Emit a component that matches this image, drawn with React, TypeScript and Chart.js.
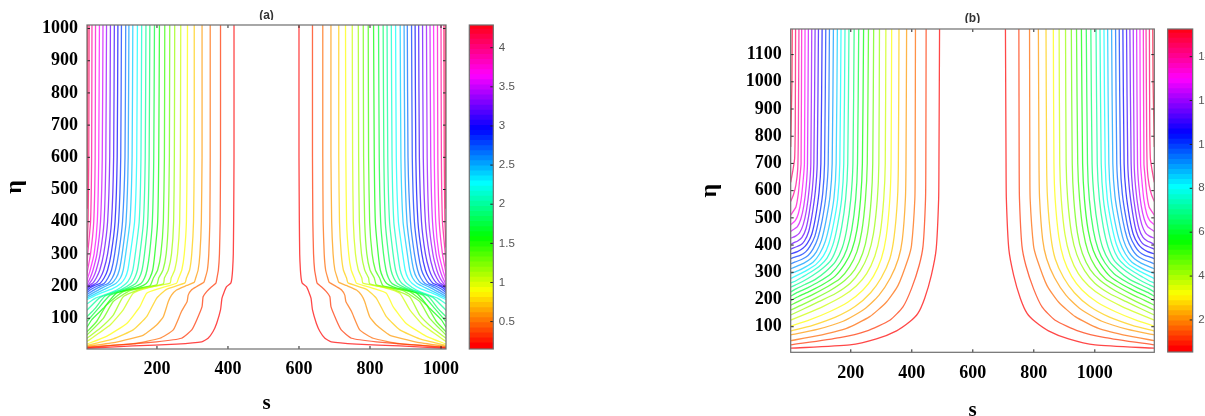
import React, { useEffect, useRef } from "react";
import { Chart, registerables } from "chart.js";

Chart.register(...registerables);

// ---- axis ticks
const xTicksA = [200, 400, 600, 800, 1000];
const yTicksA = [100, 200, 300, 400, 500, 600, 700, 800, 900, 1000];
const xTicksB = [200, 400, 600, 800, 1000];
const yTicksB = [100, 200, 300, 400, 500, 600, 700, 800, 900, 1000, 1100];
const barTicksA = [0.5, 1, 1.5, 2, 2.5, 3, 3.5, 4];
const barTicksB = [2, 4, 6, 8, 10, 12, 14];

// ---- panel (a): left half of each contour as s,eta pairs. The right half mirrors it.
const a0 = [417,1011, 417,600, 416,400, 415,300, 413,250, 411,225, 408,209, 396,198, 388,178, 383,162, 379,126, 368,84, 358,59, 344,38, 326,27, 255,20, 133,14, 3,7];
const a1 = [379,1011, 379,600, 378,400, 376,300, 373,250, 369,225, 366,209, 354,198, 340,183, 330,167, 327,136, 312,95, 298,64, 269,38, 199,27, 68,15, 3,9];
const a2 = [350,1011, 350,600, 349,400, 346,300, 342,250, 336,225, 332,212, 311,198, 297,188, 288,172, 285,152, 269,121, 246,64, 208,38, 133,21, 3,11];
const a3 = [327,1011, 327,600, 325,400, 321,300, 316,250, 309,225, 305,212, 284,202, 255,188, 241,172, 232,152, 218,105, 199,79, 162,48, 86,26, 3,13];
const a4 = [305,1011, 305,600, 303,400, 298,300, 292,250, 283,225, 279,210, 227,190, 199,162, 171,105, 133,64, 77,36, 3,16];
const a5 = [286,1011, 285,600, 283,400, 277,300, 270,250, 261,225, 255,209, 208,193, 171,178, 152,136, 115,84, 58,44, 3,20];
const a6 = [267,1011, 266,600, 264,400, 258,300, 250,250, 240,225, 237,209, 180,196, 133,178, 105,126, 68,79, 3,28];
const a7 = [250,1011, 249,600, 247,400, 241,300, 232,250, 221,225, 218,207, 152,190, 105,167, 77,110, 40,69, 3,38];
const a8 = [236,1011, 235,600, 232,400, 226,300, 217,250, 205,225, 199,204, 124,186, 77,152, 49,100, 3,48];
const a9 = [222,1011, 221,600, 218,400, 211,300, 202,250, 190,225, 180,201, 105,183, 58,141, 30,90, 3,58];
const a10 = [207,1011, 205,600, 202,400, 194,300, 188,250, 180,225, 170,208, 150,197, 86,178, 49,131, 16,95, 3,72];
const a11 = [193,1011, 191,600, 187,400, 179,300, 172,250, 165,225, 155,208, 130,195, 68,172, 35,131, 3,90];
const a12 = [180,1011, 178,600, 174,400, 165,300, 158,250, 150,225, 140,208, 115,193, 54,169, 26,131, 3,105];
const a13 = [169,1011, 167,600, 162,400, 152,300, 145,250, 137,225, 127,208, 100,190, 40,165, 3,125];
const a14 = [157,1011, 155,600, 150,400, 139,300, 132,250, 124,225, 113,208, 85,187, 26,162, 3,145];
const a15 = [145,1011, 143,600, 137,400, 125,300, 118,250, 110,225, 98,208, 75,192, 35,175, 3,158];
const a16 = [132,1011, 130,600, 124,400, 112,300, 105,250, 97,225, 84,208, 62,195, 30,178, 3,163];
const a17 = [121,1011, 119,600, 113,400, 102,300, 94,250, 85,225, 72,208, 50,197, 25,182, 3,168];
const a18 = [112,1011, 110,600, 103,400, 92,300, 83,250, 74,225, 62,208, 42,199, 20,186, 3,174];
const a19 = [100,1011, 98,600, 92,400, 81,300, 72,250, 62,225, 51,208, 34,201, 15,190, 3,180];
const a20 = [90,1011, 88,600, 82,400, 71,300, 61,250, 51,225, 40,209, 26,203, 12,195, 3,186];
const a21 = [80,1011, 78,600, 72,400, 61,300, 50,250, 40,225, 30,210, 20,204, 8,197, 3,191];
const a22 = [69,1011, 67,600, 61,400, 50,300, 39,250, 29,225, 20,210, 12,204, 3,195];
const a23 = [58,1011, 56,600, 51,400, 40,300, 29,250, 20,225, 11,210, 3,199];
const a24 = [48,1011, 46,600, 41,400, 31,300, 20,250, 12,225, 6,212, 3,204];
const a25 = [38,1011, 36,600, 32,400, 23,300, 12,250, 5,225, 3,214];
const a26 = [27,1011, 26,600, 22,400, 13,300, 4,245, 3,232];
const a27 = [17,1011, 16,600, 13,400, 5,300, 3,262];
const a28 = [9,1011, 8,600, 6,400, 3,320];
const a29 = [5,1011, 4,600, 3,440];
const contoursA = [a0,a1,a2,a3,a4,a5,a6,a7,a8,a9,a10,a11,a12,a13,a14,a15,a16,a17,a18,a19,a20,a21,a22,a23,a24,a25,a26,a27,a28,a29];

// ---- panel (b)
const b0 = [491,1194, 489,700, 488,569, 480,386, 464,289, 442,204, 420,149, 393,118, 350,85, 284,55, 197,33, 3,21];
const b1 = [447,1194, 446,700, 445,569, 437,398, 424,325, 399,240, 371,173, 328,124, 251,84, 164,60, 3,33];
const b2 = [412,1194, 411,700, 410,569, 399,398, 388,350, 355,252, 317,191, 262,137, 186,94, 88,66, 3,49];
const b3 = [383,1194, 381,700, 379,569, 369,420, 356,350, 330,280, 292,215, 245,165, 175,120, 90,90, 3,70];
const b4 = [358,1194, 356,700, 353,569, 342,430, 328,350, 300,280, 265,225, 215,175, 150,135, 75,105, 3,84];
const b5 = [334,1194, 332,700, 328,569, 316,430, 300,350, 274,285, 240,235, 190,190, 130,155, 65,125, 3,102];
const b6 = [315,1194, 313,700, 308,569, 296,440, 279,360, 252,295, 218,250, 170,210, 110,175, 55,148, 3,124];
const b7 = [294,1194, 292,700, 287,569, 274,440, 257,365, 231,305, 198,260, 150,222, 95,192, 45,165, 3,143];
const b8 = [275,1194, 272,700, 267,569, 255,445, 239,370, 213,310, 180,270, 135,235, 85,205, 40,180, 3,161];
const b9 = [258,1194, 254,700, 248,569, 236,450, 220,375, 196,320, 163,275, 120,245, 75,218, 35,197, 3,179];
const b10 = [242,1194, 238,700, 232,569, 220,455, 203,380, 180,330, 148,285, 108,255, 65,230, 30,212, 3,196];
const b11 = [226,1194, 222,700, 216,569, 203,455, 187,385, 165,335, 135,295, 95,265, 58,243, 25,226, 3,212];
const b12 = [211,1194, 207,700, 200,569, 187,460, 172,390, 150,340, 120,305, 85,275, 50,255, 22,240, 3,228];
const b13 = [194,1194, 190,700, 183,569, 170,465, 155,395, 135,345, 108,315, 75,288, 45,268, 18,253, 3,245];
const b14 = [181,1194, 177,700, 170,569, 156,470, 141,400, 122,352, 97,322, 68,300, 40,282, 15,266, 3,261];
const b15 = [168,1194, 164,700, 157,569, 143,475, 128,405, 110,360, 87,330, 60,310, 35,295, 12,282, 3,277];
const b16 = [156,1194, 152,700, 145,575, 131,480, 116,412, 98,368, 77,338, 52,320, 28,306, 3,295];
const b17 = [143,1194, 139,700, 132,580, 118,485, 104,418, 87,375, 68,350, 45,333, 22,322, 3,313];
const b18 = [130,1194, 126,700, 119,585, 106,490, 92,425, 76,385, 60,362, 40,348, 18,338, 3,331];
const b19 = [118,1194, 114,700, 108,590, 95,495, 82,432, 66,395, 52,375, 34,362, 14,355, 3,350];
const b20 = [106,1194, 102,700, 96,595, 84,500, 72,440, 57,405, 43,388, 25,376, 3,368];
const b21 = [94,1194, 90,700, 84,600, 73,510, 62,450, 48,415, 35,400, 18,392, 3,385];
const b22 = [83,1194, 79,700, 74,605, 64,520, 53,460, 40,428, 26,415, 12,408, 3,402];
const b23 = [72,1194, 69,700, 64,610, 55,530, 44,475, 32,445, 19,433, 3,425];
const b24 = [61,1194, 58,700, 54,620, 46,545, 36,495, 25,468, 12,457, 3,450];
const b25 = [50,1194, 48,700, 44,640, 37,565, 28,515, 18,490, 3,475];
const b26 = [39,1194, 37,700, 34,660, 28,590, 20,540, 3,510];
const b27 = [30,1194, 28,800, 26,680, 20,620, 12,585, 3,560];
const b28 = [19,1194, 18,850, 16,720, 11,680, 3,630];
const b29 = [8,1194, 7,1000, 5,880, 3,760];
const contoursB = [b0,b1,b2,b3,b4,b5,b6,b7,b8,b9,b10,b11,b12,b13,b14,b15,b16,b17,b18,b19,b20,b21,b22,b23,b24,b25,b26,b27,b28,b29];

const GRAY = "#6e6e6e";
const BAND_COUNT = 64;

const framePlugin = {
  id: "frame",
  beforeDatasetsDraw(chart: any, _a: any, opts: any) {
    if (opts.coverFrom == null) return;
    const { ctx, chartArea: c } = chart;
    const mid = (c.left + c.right) / 2;
    ctx.save();
    ctx.fillStyle = "#fff";
    ctx.fillRect(mid - 20, opts.coverFrom, 40, c.top - opts.coverFrom - 1);
    ctx.restore();
  },
  afterDatasetsDraw(chart: any, _a: any, opts: any) {
    const { ctx, chartArea: c } = chart;
    ctx.save();
    ctx.strokeStyle = "#222";
    ctx.lineWidth = 1;
    const len = 3;
    const ys = chart.scales.y;
    ctx.beginPath();
    for (const t of ys.ticks) {
      const p = ys.getPixelForValue(t.value);
      if (!opts.rightOnly) {
        ctx.moveTo(c.left, p);
        ctx.lineTo(c.left + len, p);
      }
      ctx.moveTo(c.right, p);
      ctx.lineTo(c.right - len, p);
    }
    if (!opts.rightOnly) {
      const xs = chart.scales.x;
      for (const t of xs.ticks) {
        const p = xs.getPixelForValue(t.value);
        ctx.moveTo(p, c.top);
        ctx.lineTo(p, c.top + len);
        ctx.moveTo(p, c.bottom);
        ctx.lineTo(p, c.bottom - len);
      }
    }
    ctx.stroke();
    ctx.strokeStyle = GRAY;
    ctx.lineWidth = 1.2;
    ctx.strokeRect(c.left, c.top, c.right - c.left, c.bottom - c.top);
    ctx.restore();
  },
};

const H = 430;
const tickFont = { family: '"Liberation Serif"', size: 18, weight: "bold" as const };
const titleFont = { family: '"Liberation Serif"', weight: "bold" as const };
const plainLabel = (v: any) => String(v);

function pairs(flat: number[], mirror?: number) {
  const out: { x: number; y: number }[] = [];
  for (let i = 0; i < flat.length; i += 2) {
    out.push({ x: mirror != null ? mirror - flat[i] : flat[i], y: flat[i + 1] });
  }
  return out;
}

function contourDatasets(list: number[][], mirror: number, tension: number) {
  const ds: any[] = [];
  list.forEach((c, i) => {
    const color = `hsla(${i * 12},100%,50%,0.72)`;
    for (const m of [undefined, mirror]) {
      ds.push({
        data: pairs(c, m),
        showLine: true,
        borderColor: color,
        borderWidth: 1.3,
        pointRadius: 0,
        tension,
        clip: 0,
      });
    }
  });
  return ds;
}

type Panel = {
  canvasLeft: number; canvasWidth: number;
  left: number; right: number; top: number; bottom: number;
  xMin: number; xMax: number; yMin: number; yMax: number;
  xTicks: number[]; yTicks: number[];
  contours: number[][]; mirror: number; tension: number;
  title: string; titlePadTop: number; coverFrom: number;
  sPad: number; etaPad: number;
};

const panelA: Panel = {
  canvasLeft: 0, canvasWidth: 476, left: 87, right: 446, top: 25, bottom: 349,
  xMin: 3, xMax: 1014, yMin: 4.6, yMax: 1011,
  xTicks: xTicksA, yTicks: yTicksA, contours: contoursA, mirror: 1017, tension: 0.15,
  title: "(a)", titlePadTop: 8.8, coverFrom: 20, sPad: 14, etaPad: 0,
};
const panelB: Panel = {
  canvasLeft: 690, canvasWidth: 500, left: 100.7, right: 464.3, top: 29, bottom: 352.3,
  xMin: 3, xMax: 1195, yMin: 6, yMax: 1194,
  xTicks: xTicksB, yTicks: yTicksB, contours: contoursB, mirror: 1198, tension: 0.2,
  title: "(b)", titlePadTop: 11.8, coverFrom: 23, sPad: 7, etaPad: 5,
};

function makePanel(canvas: HTMLCanvasElement, p: Panel) {
  return new Chart(canvas, {
    type: "scatter",
    data: { datasets: contourDatasets(p.contours, p.mirror, p.tension) },
    plugins: [framePlugin],
    options: {
      responsive: false,
      animation: false,
      layout: { padding: { left: 0, top: 0, bottom: 0, right: p.canvasWidth - p.right } },
      plugins: {
        legend: { display: false },
        tooltip: { enabled: false },
        title: {
          display: true,
          text: p.title,
          fullSize: false,
          color: "#333",
          font: { family: '"Liberation Sans"', size: 12, weight: "bold" },
          padding: { top: p.titlePadTop, bottom: p.top - 14.4 - p.titlePadTop },
        },
        frame: { coverFrom: p.coverFrom },
      } as any,
      scales: {
        x: {
          type: "linear",
          min: p.xMin,
          max: p.xMax,
          grid: { display: false, drawTicks: false },
          border: { display: false },
          afterBuildTicks: (s: any) => { s.ticks = p.xTicks.map((value) => ({ value })); },
          afterFit: (s: any) => { s.height = H - p.bottom; },
          ticks: { font: tickFont, color: "#000", padding: 10, maxRotation: 0, autoSkip: false, callback: plainLabel },
          title: { display: true, text: "s", color: "#000", font: { ...titleFont, size: 21 }, padding: { top: 0, bottom: p.sPad } },
        },
        y: {
          type: "linear",
          min: p.yMin,
          max: p.yMax,
          grid: { display: false, drawTicks: false },
          border: { display: false },
          afterBuildTicks: (s: any) => { s.ticks = p.yTicks.map((value) => ({ value })); },
          afterFit: (s: any) => { s.width = p.left; },
          ticks: { font: tickFont, color: "#000", padding: 9, autoSkip: false, callback: plainLabel },
          title: { display: true, text: "η", color: "#000", font: { ...titleFont, size: 24 }, padding: { top: p.etaPad, bottom: 0 } },
        },
      },
    } as any,
  });
}

type Bar = {
  canvasLeft: number; canvasWidth: number; left: number; right: number; top: number; bottom: number;
  min: number; max: number; ticks: number[];
};
const barA: Bar = { canvasLeft: 460, canvasWidth: 80, left: 9.3, right: 33.3, top: 25, bottom: 349, min: 0.15, max: 4.29, ticks: barTicksA };
const barB: Bar = { canvasLeft: 1160, canvasWidth: 45, left: 7.7, right: 32.7, top: 29, bottom: 352, min: 0.54, max: 15.26, ticks: barTicksB };

function makeBar(canvas: HTMLCanvasElement, b: Bar) {
  const step = (b.max - b.min) / BAND_COUNT;
  const datasets = Array.from({ length: BAND_COUNT }, (_, i) => ({
    data: [[b.min + i * step, b.min + (i + 1) * step + step * 0.2]],
    backgroundColor: `hsl(${(i / BAND_COUNT) * 360},100%,50%)`,
    borderWidth: 0,
    barPercentage: 1,
    categoryPercentage: 1,
    grouped: false,
  }));
  return new Chart(canvas, {
    type: "bar",
    data: { labels: ["z"], datasets },
    plugins: [framePlugin],
    options: {
      responsive: false,
      animation: false,
      layout: { padding: { left: b.left, top: b.top, bottom: H - b.bottom, right: 0 } },
      plugins: { legend: { display: false }, tooltip: { enabled: false }, frame: { rightOnly: true } } as any,
      scales: {
        x: { display: false, stacked: false },
        y: {
          position: "right",
          min: b.min,
          max: b.max,
          grid: { display: false, drawTicks: false },
          border: { display: false },
          afterBuildTicks: (s: any) => { s.ticks = b.ticks.map((value) => ({ value })); },
          afterFit: (s: any) => { s.width = b.canvasWidth - b.right; },
          ticks: {
            font: { family: '"Liberation Sans"', size: 11.5 },
            color: "#555",
            padding: 5.5,
            autoSkip: false,
            callback: plainLabel,
          },
        },
      },
    } as any,
  });
}

export default function App() {
  const a = useRef<HTMLCanvasElement>(null);
  const b = useRef<HTMLCanvasElement>(null);
  const ca = useRef<HTMLCanvasElement>(null);
  const cb = useRef<HTMLCanvasElement>(null);
  useEffect(() => {
    const charts = [
      makePanel(a.current!, panelA),
      makePanel(b.current!, panelB),
      makeBar(ca.current!, barA),
      makeBar(cb.current!, barB),
    ];
    return () => charts.forEach((c) => c.destroy());
  }, []);
  const style = (left: number): React.CSSProperties => ({ position: "absolute", left, top: 0 });
  return (
    <div style={{ position: "absolute", left: 0, top: 0, width: 1205, height: 416, overflow: "hidden", background: "#fff" }}>
      <canvas ref={a} width={panelA.canvasWidth} height={H} style={style(panelA.canvasLeft)} />
      <canvas ref={b} width={panelB.canvasWidth} height={H} style={style(panelB.canvasLeft)} />
      <canvas ref={ca} width={barA.canvasWidth} height={H} style={style(barA.canvasLeft)} />
      <canvas ref={cb} width={barB.canvasWidth} height={H} style={style(barB.canvasLeft)} />
    </div>
  );
}
